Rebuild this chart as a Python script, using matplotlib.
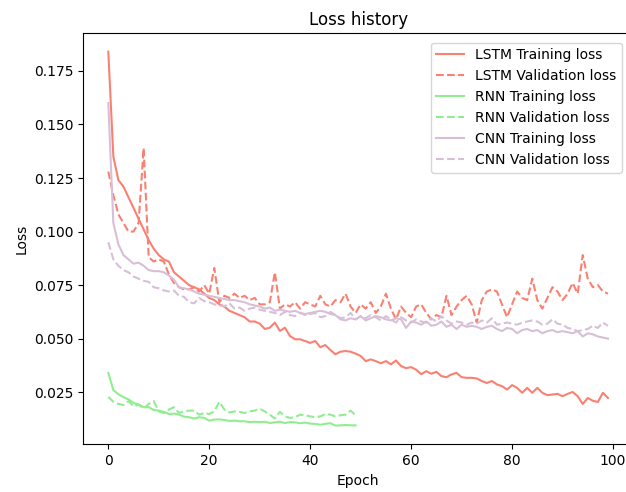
import matplotlib
matplotlib.use("Agg")
import matplotlib.pyplot as plt

lstm_train = [
    0.184, 0.135, 0.124, 0.121, 0.116, 0.111, 0.106, 0.101, 0.096, 0.092,
    0.089, 0.087, 0.086, 0.081, 0.079, 0.077, 0.075, 0.074, 0.073, 0.071,
    0.069, 0.068, 0.066, 0.065, 0.063, 0.062, 0.061, 0.060, 0.058, 0.058,
    0.057, 0.0545, 0.0551, 0.0575, 0.0536, 0.0551, 0.0512, 0.0497, 0.0497, 0.0489,
    0.048, 0.0489, 0.046, 0.047, 0.0447, 0.0427, 0.0439, 0.0442, 0.0439, 0.043,
    0.0419, 0.0395, 0.0403, 0.0395, 0.0385, 0.0395, 0.038, 0.0398, 0.0372, 0.0362,
    0.0367, 0.0355, 0.0334, 0.0348, 0.0336, 0.0345, 0.0325, 0.032, 0.0333, 0.034,
    0.032, 0.0317, 0.0317, 0.0314, 0.0302, 0.0293, 0.0302, 0.0286, 0.0278, 0.0262,
    0.0283, 0.027, 0.0247, 0.027, 0.0247, 0.027, 0.0247, 0.0236, 0.0239, 0.0242,
    0.0231, 0.0242, 0.0251, 0.0231, 0.0195, 0.0223, 0.021, 0.0204, 0.0247, 0.0223,
]
lstm_val = [
    0.128, 0.117, 0.108, 0.104, 0.100, 0.100, 0.104, 0.139, 0.088, 0.086,
    0.087, 0.086, 0.080, 0.076, 0.074, 0.073, 0.073, 0.074, 0.072, 0.075,
    0.071, 0.083, 0.067, 0.070, 0.069, 0.071, 0.069, 0.070, 0.068, 0.069,
    0.066, 0.066, 0.067, 0.081, 0.064, 0.066, 0.065, 0.067, 0.064, 0.067,
    0.066, 0.065, 0.070, 0.066, 0.065, 0.068, 0.067, 0.071, 0.065, 0.062,
    0.066, 0.064, 0.067, 0.062, 0.065, 0.071, 0.064, 0.059, 0.065, 0.062,
    0.060, 0.065, 0.066, 0.062, 0.059, 0.061, 0.060, 0.070, 0.061, 0.065,
    0.068, 0.070, 0.066, 0.0575, 0.068, 0.072, 0.073, 0.072, 0.066, 0.060,
    0.066, 0.072, 0.069, 0.068, 0.078, 0.068, 0.064, 0.069, 0.074, 0.072,
    0.068, 0.071, 0.076, 0.071, 0.089, 0.078, 0.074, 0.075, 0.072, 0.071,
]
rnn_train = [
    0.034, 0.026, 0.024, 0.0227, 0.0216, 0.020, 0.0192, 0.018, 0.018, 0.0167,
    0.0164, 0.0158, 0.0148, 0.015, 0.0145, 0.0136, 0.0133, 0.0127, 0.0133, 0.013,
    0.0117, 0.0122, 0.0123, 0.012, 0.0116, 0.0117, 0.0114, 0.0114, 0.011, 0.0112,
    0.011, 0.0112, 0.0106, 0.0109, 0.0112, 0.0106, 0.011, 0.0109, 0.0105, 0.0108,
    0.0103, 0.0102, 0.0098, 0.0102, 0.0105, 0.0094, 0.0095, 0.0097, 0.0095, 0.0095,
]
rnn_val = [
    0.0228, 0.0205, 0.0195, 0.019, 0.0208, 0.0184, 0.0192, 0.0173, 0.0195, 0.0208,
    0.016, 0.0153, 0.0169, 0.018, 0.0153, 0.016, 0.0164, 0.0164, 0.0145, 0.0153,
    0.0148, 0.016, 0.0205, 0.0169, 0.0155, 0.016, 0.0158, 0.0153, 0.016, 0.0164,
    0.0173, 0.016, 0.0145, 0.0127, 0.0158, 0.0137, 0.013, 0.0133, 0.0145, 0.0142,
    0.0137, 0.0133, 0.0137, 0.0148, 0.0145, 0.0137, 0.0142, 0.0145, 0.0164, 0.0142,
]
cnn_train = [
    0.160, 0.104, 0.094, 0.089, 0.087, 0.085, 0.0855, 0.084, 0.082, 0.0815,
    0.0815, 0.081, 0.0795, 0.0775, 0.074, 0.0735, 0.073, 0.072, 0.071, 0.0705,
    0.070, 0.0695, 0.069, 0.0685, 0.068, 0.068, 0.0675, 0.067, 0.066, 0.0655,
    0.065, 0.064, 0.0645, 0.063, 0.0635, 0.063, 0.0625, 0.063, 0.062, 0.0615,
    0.062, 0.0625, 0.063, 0.0625, 0.0615, 0.061, 0.059, 0.0585, 0.0595, 0.059,
    0.0605, 0.0585, 0.0595, 0.0605, 0.060, 0.059, 0.0585, 0.0595, 0.059, 0.055,
    0.058, 0.0575, 0.0565, 0.058, 0.056, 0.0565, 0.058, 0.0555, 0.0565, 0.0545,
    0.0565, 0.0555, 0.056, 0.0555, 0.0545, 0.0555, 0.056, 0.0545, 0.0535, 0.055,
    0.0545, 0.0525, 0.054, 0.0545, 0.0535, 0.054, 0.0525, 0.0535, 0.054, 0.053,
    0.0535, 0.053, 0.0525, 0.0535, 0.051, 0.0525, 0.052, 0.051, 0.0505, 0.050,
]
cnn_val = [
    0.095, 0.087, 0.084, 0.082, 0.081, 0.079, 0.078, 0.077, 0.0765, 0.074,
    0.0735, 0.0725, 0.072, 0.0725, 0.070, 0.0695, 0.067, 0.0665, 0.069, 0.0675,
    0.067, 0.066, 0.0655, 0.065, 0.0665, 0.064, 0.0645, 0.063, 0.064, 0.0645,
    0.0635, 0.063, 0.0625, 0.062, 0.061, 0.0625, 0.061, 0.0605, 0.062, 0.061,
    0.0615, 0.062, 0.060, 0.0605, 0.0625, 0.061, 0.0595, 0.060, 0.062, 0.059,
    0.0605, 0.0595, 0.061, 0.060, 0.0585, 0.0605, 0.059, 0.0575, 0.060, 0.0585,
    0.0575, 0.059, 0.058, 0.0575, 0.0595, 0.058, 0.0605, 0.0585, 0.057, 0.058,
    0.0575, 0.0565, 0.0575, 0.057, 0.0585, 0.0575, 0.0595, 0.0565, 0.057, 0.0575,
    0.057, 0.0565, 0.0575, 0.058, 0.0585, 0.058, 0.0565, 0.057, 0.059, 0.057,
    0.0565, 0.055, 0.0545, 0.0535, 0.054, 0.0545, 0.056, 0.055, 0.0575, 0.056,
]

models = [
    ("LSTM", lstm_train, lstm_val, "salmon"),
    ("RNN", rnn_train, rnn_val, "lightgreen"),
    ("CNN", cnn_train, cnn_val, "thistle"),
]

fig = plt.figure(figsize=(6.26, 4.92), dpi=100)
# the reference is cropped on the right, so the right spine sits at the canvas edge
ax = fig.add_axes([0.1331, 0.097, 0.878, 0.836])

for name, train, val, color in models:
    ax.plot(range(len(train)), train, color=color, label=f"{name} Training loss")
    ax.plot(range(len(val)), val, color=color, linestyle="--", label=f"{name} Validation loss")

ax.set_xlim(-4.95, 103.95)
ax.spines["right"].set_visible(False)
ax.set_title("Loss history")
ax.set_xlabel("Epoch")
ax.set_ylabel("Loss")
ax.legend(loc="upper right", bbox_to_anchor=(622 / 626, (492 - 42.7) / 492),
          bbox_transform=fig.transFigure, borderaxespad=0)

fig.savefig("out.png", dpi=100)
